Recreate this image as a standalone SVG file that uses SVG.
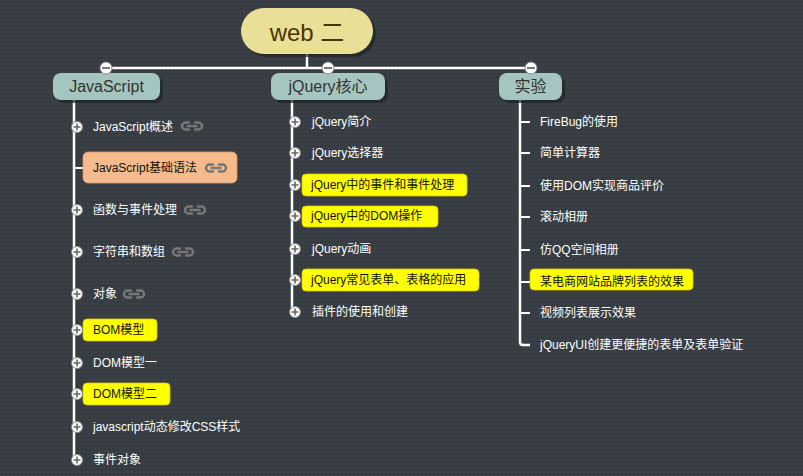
<svg xmlns="http://www.w3.org/2000/svg" width="803" height="476" viewBox="0 0 803 476">
<defs>
<pattern id="dots" width="4" height="4" patternUnits="userSpaceOnUse">
<rect width="4" height="4" fill="#393f44"/>
<rect x="1" y="1" width="1.4" height="1.4" fill="#2c3135"/>
</pattern>
<g id="plus">
<circle r="5.5" fill="#ffffff" stroke="#8a8a8a" stroke-width="1"/>
<path d="M-3.5 0H3.5M0 -3.5V3.5" stroke="#666" stroke-width="1.6"/>
</g>
<g id="minus">
<circle r="6" fill="#ffffff" stroke="#8a8a8a" stroke-width="1"/>
<path d="M-4 0H4" stroke="#555" stroke-width="1.6"/>
</g>
<g id="link">
<path d="M7 -3.5H3.5A3.5 3.5 0 0 0 3.5 3.5H7M13 -3.5H16.5A3.5 3.5 0 0 1 16.5 3.5H13M5.5 0H14.5" fill="none" stroke="#777" stroke-width="2.5" stroke-linecap="round"/>
</g>
</defs>
<style>
.conn{stroke:#ffffff;stroke-width:2.5;fill:none}
.stub{stroke:#ffffff;stroke-width:2;fill:none}
.root{fill:#e9df97}
.br{fill:#a5c5c0}
.shadow{fill:#1f2326;opacity:0.7}
.rt{font-family:"Liberation Sans","Noto Sans CJK SC",sans-serif;font-size:24px;fill:#4a3500;text-anchor:middle}
.bt{font-family:"Liberation Sans","Noto Sans CJK SC",sans-serif;font-size:16px;fill:#333333;text-anchor:middle}
.ct{font-family:"Liberation Sans","Noto Sans CJK SC",sans-serif;font-size:12px;fill:#ffffff}
.dt{font-family:"Liberation Sans","Noto Sans CJK SC",sans-serif;font-size:12px;fill:#111111}
.yel{fill:#ffff00;stroke:#d8c800;stroke-width:0.8}
.peach{fill:#f6bb8c;stroke:#d89a6c;stroke-width:0.8}
</style>
<rect width="803" height="476" fill="url(#dots)"/>

<g id="connectors">
<path class="conn" d="M307 54V68M106 68H531M106 68V73M328 68V73M531 68V73"/>
<path class="conn" d="M74 100V460"/>
<path class="stub" d="M74 168H83"/>
<path class="conn" d="M292 100V312"/>
<path class="conn" d="M520 100V342Q520 345 523 345H530"/>
<path class="stub" d="M520 122H530M520 153H530M520 186H530M520 217H530M520 250H530M520 282H530M520 313H530"/>
</g>

<g id="root">
<rect class="shadow" x="244" y="11" width="132" height="46" rx="23"/>
<rect class="root" x="241" y="8" width="132" height="46" rx="23"/>
<text class="rt" x="307" y="41">web 二</text>
</g>

<g id="javascript">
<rect class="shadow" x="56" y="76" width="107" height="27" rx="8"/>
<rect class="br" x="53" y="73" width="107" height="27" rx="8"/>
<text class="bt" x="106.5" y="92">JavaScript</text>
<use href="#minus" x="106" y="68"/>
</g>
<g id="jquery">
<rect class="shadow" x="274" y="76" width="114" height="27" rx="8"/>
<rect class="br" x="271" y="73" width="114" height="27" rx="8"/>
<text class="bt" x="328" y="92">jQuery核心</text>
<use href="#minus" x="328" y="68"/>
</g>
<g id="shiyan">
<rect class="shadow" x="502" y="76" width="63" height="27" rx="8"/>
<rect class="br" x="499" y="73" width="63" height="27" rx="8"/>
<text class="bt" x="530.5" y="92">实验</text>
<use href="#minus" x="531" y="68"/>
</g>

<g id="js-children">
<g id="js1"><use href="#plus" x="77" y="127"/><text class="ct" x="93" y="131">JavaScript概述</text><use href="#link" x="182" y="126"/></g>
<g id="js2"><rect class="peach" x="83" y="152" width="154" height="31" rx="5"/><text class="dt" x="93" y="172">JavaScript基础语法</text><use href="#link" x="206" y="168"/></g>
<g id="js3"><use href="#plus" x="77" y="210"/><text class="ct" x="93" y="214">函数与事件处理</text><use href="#link" x="185" y="210"/></g>
<g id="js4"><use href="#plus" x="77" y="252"/><text class="ct" x="93" y="256">字符串和数组</text><use href="#link" x="173" y="252"/></g>
<g id="js5"><use href="#plus" x="77" y="294"/><text class="ct" x="93" y="298">对象</text><use href="#link" x="124" y="294"/></g>
<g id="js6"><rect class="yel" x="83" y="319" width="74" height="22" rx="4"/><use href="#plus" x="77" y="330"/><text class="dt" x="93" y="334">BOM模型</text></g>
<g id="js7"><use href="#plus" x="77" y="363"/><text class="ct" x="93" y="367">DOM模型一</text></g>
<g id="js8"><rect class="yel" x="83" y="383" width="87" height="22" rx="4"/><use href="#plus" x="77" y="394"/><text class="dt" x="93" y="398">DOM模型二</text></g>
<g id="js9"><use href="#plus" x="77" y="427"/><text class="ct" x="93" y="431">javascript动态修改CSS样式</text></g>
<g id="js10"><use href="#plus" x="77" y="460"/><text class="ct" x="93" y="464">事件对象</text></g>
</g>

<g id="jq-children">
<g id="jq1"><use href="#plus" x="295" y="122"/><text class="ct" x="312" y="126">jQuery简介</text></g>
<g id="jq2"><use href="#plus" x="295" y="153"/><text class="ct" x="312" y="157">jQuery选择器</text></g>
<g id="jq3"><rect class="yel" x="302" y="174" width="165" height="22" rx="4"/><use href="#plus" x="295" y="185"/><text class="dt" x="311" y="189">jQuery中的事件和事件处理</text></g>
<g id="jq4"><rect class="yel" x="302" y="206" width="136" height="21" rx="4"/><use href="#plus" x="295" y="216"/><text class="dt" x="311" y="220">jQuery中的DOM操作</text></g>
<g id="jq5"><use href="#plus" x="295" y="249"/><text class="ct" x="312" y="253">jQuery动画</text></g>
<g id="jq6"><rect class="yel" x="302" y="269" width="177" height="22" rx="4"/><use href="#plus" x="295" y="280"/><text class="dt" x="311" y="284">jQuery常见表单、表格的应用</text></g>
<g id="jq7"><use href="#plus" x="295" y="312"/><text class="ct" x="312" y="316">插件的使用和创建</text></g>
</g>

<g id="sy-children">
<g id="sy1"><text class="ct" x="540" y="126">FireBug的使用</text></g>
<g id="sy2"><text class="ct" x="540" y="157">简单计算器</text></g>
<g id="sy3"><text class="ct" x="540" y="190">使用DOM实现商品评价</text></g>
<g id="sy4"><text class="ct" x="540" y="221">滚动相册</text></g>
<g id="sy5"><text class="ct" x="540" y="254">仿QQ空间相册</text></g>
<g id="sy6"><rect class="yel" x="530" y="269" width="163" height="21" rx="4"/><text class="dt" x="540" y="286">某电商网站品牌列表的效果</text></g>
<g id="sy7"><text class="ct" x="540" y="317">视频列表展示效果</text></g>
<g id="sy8"><text class="ct" x="540" y="349">jQueryUI创建更便捷的表单及表单验证</text></g>
</g>
</svg>
